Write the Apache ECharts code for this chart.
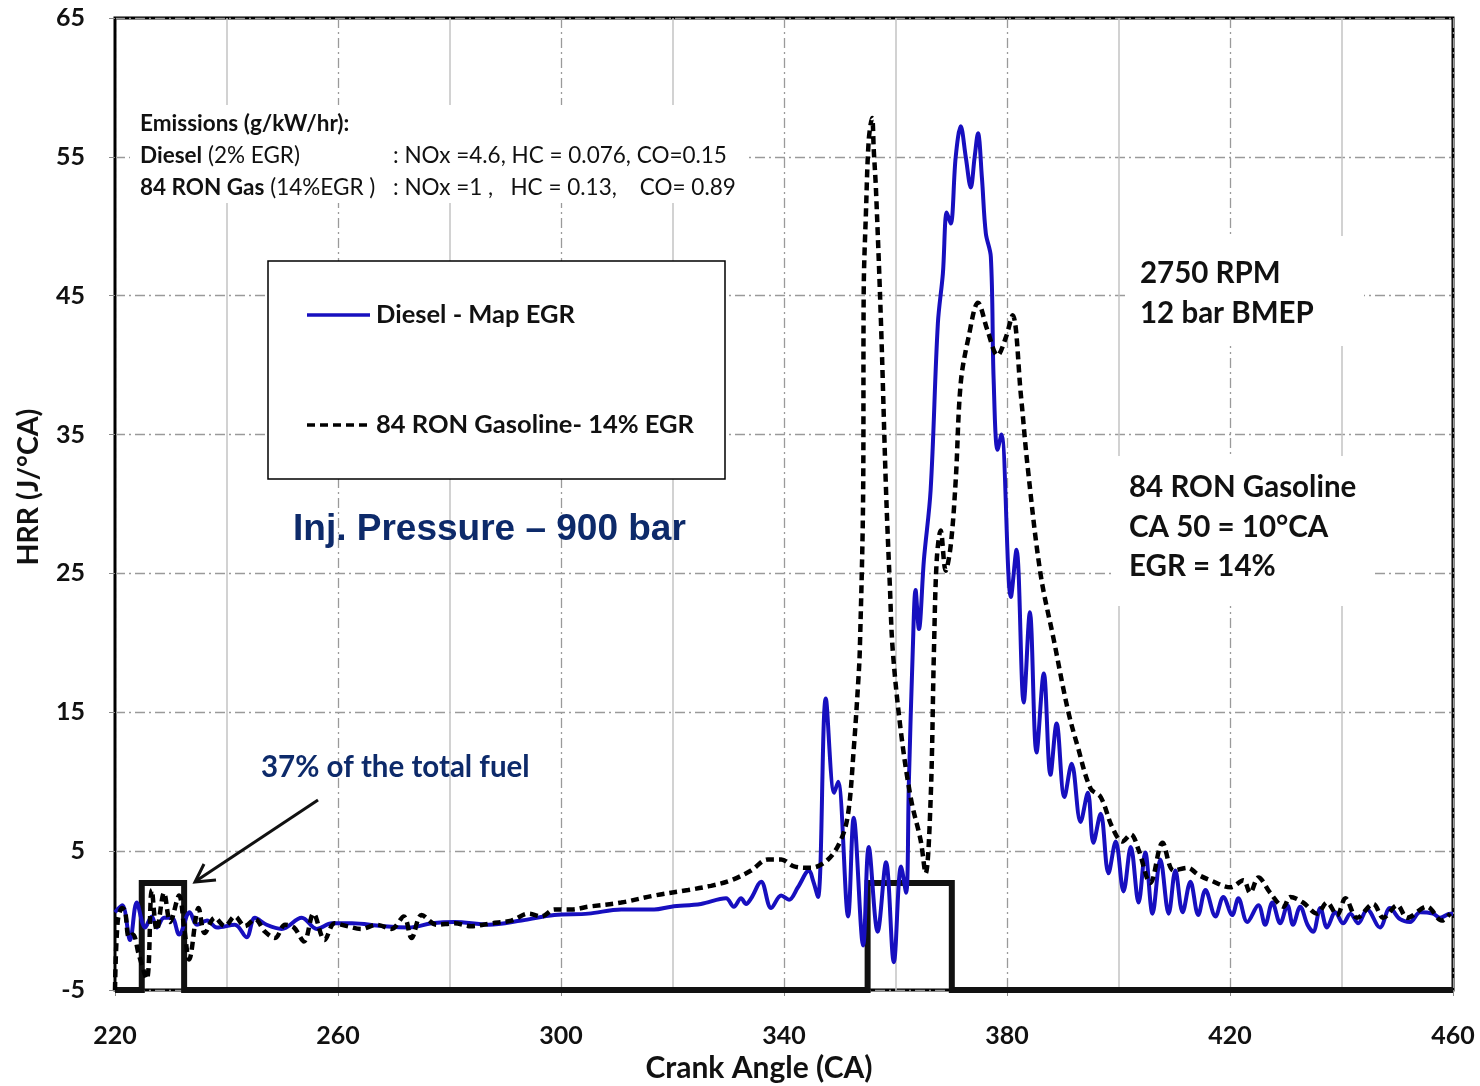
<!DOCTYPE html>
<html>
<head>
<meta charset="utf-8">
<script src="https://cdn.jsdelivr.net/npm/echarts@6/dist/echarts.min.js"></script>
<style>
html,body{margin:0;padding:0;background:#fff;}
#chart{width:1480px;height:1086px;}
</style>
</head>
<body>
<div id="chart"></div>
<script>
// ---- Data ----
const xTicks = [220, 260, 300, 340, 380, 420, 460];
const yTicks = [-5, 5, 15, 25, 35, 45, 55, 65];

const dieselCA = [220.0,221.3,222.7,223.9,225.4,226.6,227.5,228.8,230.2,231.5,233.4,234.7,236.5,238.3,241.5,243.6,245.1,247.2,249.9,253.5,256.2,258.9,262.5,267.8,272.7,276.8,280.9,287.0,292.9,298.8,304.9,310.8,316.7,319.8,325.1,329.6,331.0,332.3,333.2,334.1,335.9,337.7,339.5,340.9,342.5,344.5,345.2,346.1,347.5,349.0,349.7,351.5,352.5,354.2,355.2,356.8,358.3,359.7,361.0,361.9,362.4,363.1,363.6,364.2,365.1,366.3,367.6,368.5,369.2,369.9,370.8,371.7,372.6,373.5,374.2,374.8,375.5,376.2,377.1,377.6,378.3,379.0,380.7,381.7,383.0,384.1,385.3,386.6,387.8,388.9,390.3,391.6,393.2,394.5,395.5,396.8,398.2,399.5,400.9,402.2,403.6,404.8,406.1,407.5,409.0,410.2,411.5,412.9,414.3,415.6,417.4,418.8,420.4,421.5,423.1,425.1,426.3,427.6,429.0,430.3,431.3,432.6,433.9,434.9,436.2,437.4,438.9,440.3,441.6,443.0,444.6,446.9,448.7,450.5,452.3,454.1,456.4,457.7,459.5,460.0];
const dieselHRR = [0.6,1.1,-1.4,1.3,-0.5,0.3,-0.5,0.2,0.2,-1.0,0.6,-0.3,0.0,-0.5,-0.3,-1.2,0.2,-0.3,-0.6,0.2,-0.6,-0.2,-0.2,-0.4,-0.5,-0.2,-0.1,-0.3,0.0,0.4,0.5,0.8,0.8,1.0,1.2,1.6,1.0,1.6,1.2,1.6,2.8,0.9,1.8,1.5,2.4,3.6,2.9,1.7,16.0,9.2,10.0,0.3,7.4,-1.8,5.3,-0.8,4.2,-3.0,3.9,2.0,10.0,19.5,23.8,21.0,26.0,31.0,43.0,46.6,51.0,50.2,55.0,57.2,55.0,52.8,55.0,56.7,53.5,49.5,47.8,39.0,33.9,35.0,23.3,26.7,15.7,22.2,12.1,17.8,10.5,14.2,8.9,11.3,7.1,9.2,5.6,7.7,3.4,5.7,2.1,5.3,1.3,4.9,0.5,4.4,0.5,3.6,0.6,2.8,0.4,2.2,0.3,1.7,0.4,1.6,-0.1,1.1,-0.3,1.3,-0.2,1.1,-0.3,1.0,-0.3,-0.8,0.9,-0.5,0.6,-0.2,0.5,-0.2,0.8,-0.5,0.9,0.1,-0.1,0.6,0.5,0.2,0.5,0.5];

const gasCA = [220.0,220.5,221.3,221.8,222.5,223.2,224.3,225.7,226.6,227.5,228.8,229.9,231.5,232.4,233.3,235.0,236.1,237.9,239.7,241.5,243.3,245.1,246.9,248.7,250.5,252.1,253.9,255.6,257.6,259.4,261.6,264.2,266.9,269.6,271.8,273.2,275.0,277.7,280.9,283.9,287.5,291.1,294.2,296.5,298.8,301.9,304.9,310.8,316.7,322.8,326.9,330.5,334.1,337.1,339.5,341.8,344.8,347.9,350.2,351.5,352.5,353.3,353.6,354.2,354.3,354.7,355.2,355.8,356.1,356.5,357.4,358.3,359.0,359.5,361.0,362.8,364.5,365.4,366.3,366.9,367.4,368.1,369.0,369.9,370.8,371.7,373.1,374.8,376.5,378.3,379.8,381.0,382.5,383.7,386.0,388.4,390.9,392.7,395.0,396.8,398.9,400.7,402.2,403.6,405.7,407.9,409.9,412.4,414.3,416.5,420.1,422.4,423.6,425.1,427.2,429.6,430.8,433.1,435.6,437.4,439.2,440.7,442.8,445.7,447.5,450.0,451.8,455.3,458.0,459.5];
const gasHRR = [-5.0,0.0,0.9,0.7,-1.2,-1.0,-2.5,-4.2,2.2,-0.7,2.0,-0.1,1.8,-0.5,-2.8,0.9,-0.9,0.2,-0.4,0.3,-0.4,0.1,-0.8,-1.25,-0.3,-0.5,-1.5,0.5,-1.4,-0.2,-0.4,-0.6,-0.3,-0.6,0.3,-1.25,0.4,-0.3,-0.2,-0.4,-0.2,0.0,0.5,0.3,0.8,0.8,1.0,1.3,1.8,2.2,2.5,2.9,3.6,4.4,4.4,3.9,3.8,4.4,5.8,7.7,12.3,17.1,19.5,31.0,45.4,51.0,56.2,57.8,55.5,52.6,43.0,31.0,24.0,19.5,13.5,8.7,5.8,3.4,8.7,19.5,26.0,28.1,25.2,27.0,31.7,38.7,42.0,44.5,42.5,40.7,42.0,43.6,37.8,32.7,25.0,20.2,15.2,12.5,9.5,8.9,6.7,5.7,6.2,5.1,2.7,5.6,3.6,3.8,3.3,2.9,2.4,2.9,2.0,3.1,2.0,1.0,1.7,1.3,0.5,1.3,0.4,1.6,0.2,1.2,0.2,1.1,0.2,1.0,0.0,0.5];

// injection command trace (drawn as thick black line)
const injCA = [220.0, 224.8, 224.8, 232.4, 232.4, 355.0, 355.0, 370.1, 370.1, 460.0];
const injLevel = [-5, -5, 2.7, 2.7, -5, -5, 2.7, 2.7, -5, -5];

// ---- Build chart ----
const X0 = xTicks[0], Y0 = yTicks[0];
const pairs = (xs, ys) => xs.map((x, i) => [x - X0, ys[i] - Y0]);

const BLUE = '#170fbf';
const NAVY = '#0d2a6a';
const CAL = 'Lato, "Open Sans", sans-serif';

const chart = echarts.init(document.getElementById('chart'));

function txt(x, y, text, size, opts) {
  opts = opts || {};
  return {
    type: 'text', z: 20,
    rotation: opts.rotation || 0,
    x: x, y: y,
    style: Object.assign({
      text: text,
      fontSize: size,
      fontWeight: opts.weight || 'bold',
      fontFamily: opts.family || CAL,
      fill: opts.color || '#111',
      align: opts.align || 'left',
      verticalAlign: 'middle'
    }, opts.rich ? {rich: opts.rich} : {})
  };
}
function box(x, y, w, h, stroke) {
  return {
    type: 'rect', z: 10,
    shape: {x: x, y: y, width: w, height: h},
    style: {fill: '#fff', stroke: stroke || null, lineWidth: stroke ? 1.5 : 0}
  };
}

const EM = 22.5;
const richB = {b: {fontWeight: 'bold', fontSize: EM, fontFamily: CAL, fill: '#111'}};

const option = {
  animation: false,
  backgroundColor: '#fff',
  grid: {left: 115, right: 27, top: 18, bottom: 96, show: true,
         borderColor: '#000', borderWidth: 3, backgroundColor: 'transparent'},
  xAxis: {
    type: 'value', min: 0, max: xTicks[xTicks.length - 1] - X0, interval: 40,
    axisLine: {show: false},
    axisTick: {show: true, length: 6, inside: false, lineStyle: {color: '#888'}},
    axisLabel: {margin: 33, fontSize: 25, fontWeight: 'bold', fontFamily: CAL, color: '#111',
                formatter: v => String(v + X0)},
    splitLine: {show: true, lineStyle: {color: '#9a9a9a', width: 1.3, type: [10, 4, 2, 4]}},
    minorTick: {show: false, splitNumber: 2},
    minorSplitLine: {show: true, lineStyle: {color: '#c4c4c4', width: 1.5}}
  },
  yAxis: {
    type: 'value', min: 0, max: yTicks[yTicks.length - 1] - Y0, interval: 10,
    axisLine: {show: true, lineStyle: {color: '#000', width: 2}},
    axisTick: {show: true, length: 6, lineStyle: {color: '#888'}},
    axisLabel: {margin: 30, fontSize: 25, fontWeight: 'bold', fontFamily: CAL, color: '#111',
                formatter: v => String(v + Y0)},
    splitLine: {show: true, lineStyle: {color: '#9a9a9a', width: 1.3, type: [10, 4, 2, 4]}}
  },
  series: [
    {
      name: 'Injection', type: 'line', data: pairs(injCA, injLevel), showSymbol: false,
      clip: false, z: 2,
      lineStyle: {color: '#111', width: 6, join: 'miter'}
    },
    {
      name: 'Diesel - Map EGR', type: 'line', data: pairs(dieselCA, dieselHRR), showSymbol: false,
      smooth: 0.35, z: 4,
      lineStyle: {color: BLUE, width: 4}
    },
    {
      name: '84 RON Gasoline- 14% EGR', type: 'line', data: pairs(gasCA, gasHRR), showSymbol: false,
      smooth: 0.35, z: 5,
      lineStyle: {color: '#000', width: 4.5, type: [8, 5]}
    }
  ],
  graphic: [
    // emissions block
    box(130, 105, 618, 98),
    txt(140, 124, 'Emissions (g/kW/hr):', EM),
    txt(140, 156, '{b|Diesel} (2% EGR)', EM, {weight: 'normal', rich: richB}),
    txt(393, 156, ': NOx =4.6, HC = 0.076, CO=0.15', EM, {weight: 'normal'}),
    txt(140, 188, '{b|84 RON Gas} (14%EGR )', EM, {weight: 'normal', rich: richB}),
    txt(393, 188, ': NOx =1 ,   HC = 0.13,    CO= 0.89', EM, {weight: 'normal'}),
    // legend box
    box(268, 261, 457, 218, '#000'),
    {type: 'line', z: 20, shape: {x1: 307, y1: 315, x2: 370, y2: 315},
     style: {stroke: BLUE, lineWidth: 3.5}},
    txt(376, 315, 'Diesel - Map EGR', 25.5),
    {type: 'line', z: 20, shape: {x1: 307, y1: 425, x2: 372, y2: 425},
     style: {stroke: '#000', lineWidth: 3.5, lineDash: [8, 5]}},
    txt(376, 425, '84 RON Gasoline- 14% EGR', 25.5),
    // injection pressure
    txt(293, 530, 'Inj. Pressure \u2013 900 bar', 37, {family: '"Liberation Sans", Arial, sans-serif', color: NAVY}),
    // RPM block
    box(1128, 236, 236, 110),
    txt(1140, 273, '2750 RPM', 29.5),
    txt(1140, 313, '12 bar BMEP', 29.5),
    // gasoline condition block
    box(1112, 456, 262, 150),
    txt(1129, 487, '84 RON Gasoline', 29.5),
    txt(1129, 527, 'CA 50 = 10\u00b0CA', 29.5),
    txt(1129, 566, 'EGR = 14%', 29.5),
    // fuel annotation + arrow
    txt(261, 767, '37% of the total fuel', 29.5, {color: NAVY}),
    {type: 'line', z: 20, shape: {x1: 318, y1: 800, x2: 196, y2: 881},
     style: {stroke: '#111', lineWidth: 3}},
    {type: 'polyline', z: 20, shape: {points: [[216, 880], [195, 882], [204, 864]]},
     style: {stroke: '#111', lineWidth: 3, fill: null}},
    // axis titles
    txt(759, 1068, 'Crank Angle (CA)', 30, {align: 'center'}),
    txt(29, 487, 'HRR (J/\u00b0CA)', 28.5, {align: 'center', rotation: Math.PI / 2})
  ]
};
chart.setOption(option);
</script>
</body>
</html>
